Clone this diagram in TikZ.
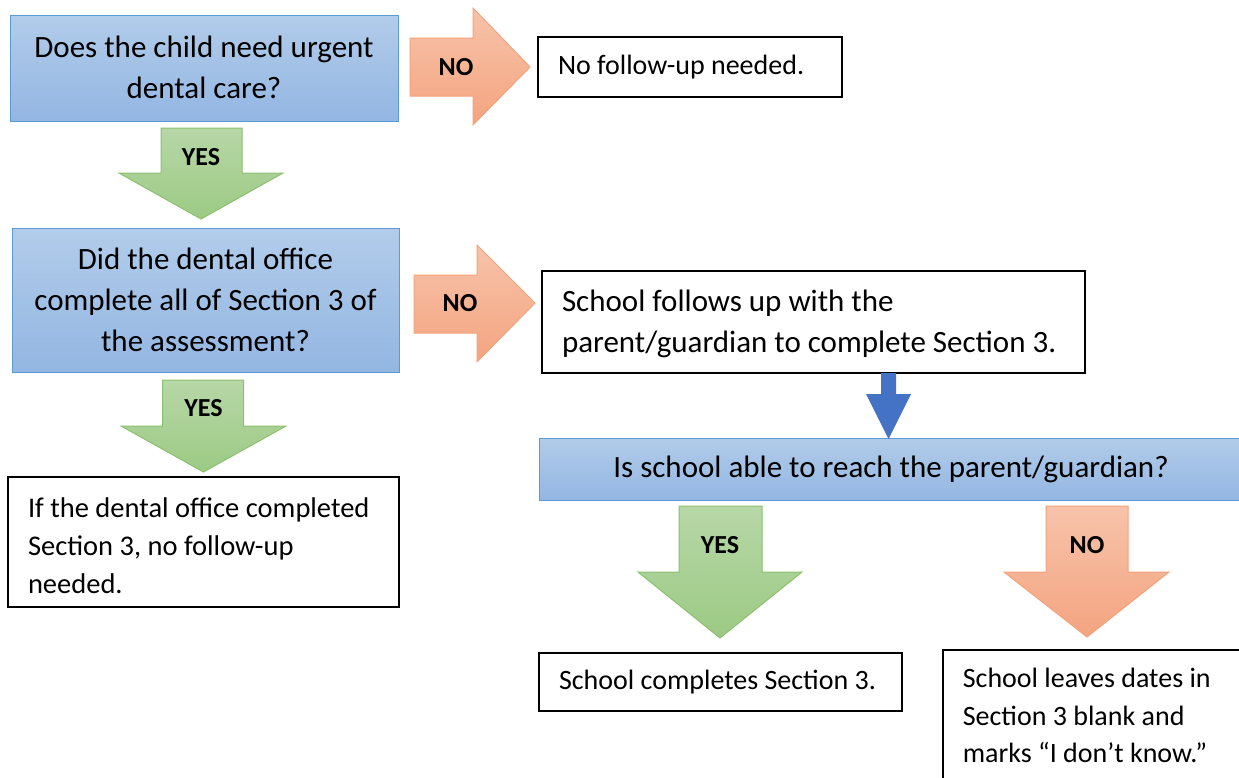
\documentclass[tikz,border=0pt]{standalone}
\usepackage{fontspec}
\setmainfont{Carlito}
\definecolor{bluetop}{HTML}{B2CCEA}
\definecolor{bluebot}{HTML}{93B6E2}
\definecolor{blueline}{HTML}{5B9BD5}
\definecolor{orgtop}{HTML}{F7C3AA}
\definecolor{orgbot}{HTML}{F4A480}
\definecolor{orgline}{HTML}{F4A27B}
\definecolor{grntop}{HTML}{B7D7A7}
\definecolor{grnbot}{HTML}{9CCA84}
\definecolor{grnline}{HTML}{8CC06E}
\definecolor{darkblue}{HTML}{4472C4}
\tikzset{
  bluebox/.style={draw=blueline, line width=1pt, top color=bluetop, bottom color=bluebot, shading angle=0, inner sep=0pt, align=center, font=\fontsize{31}{41}\selectfont},
  whitebox/.style={draw=black, line width=1.6pt, fill=white, inner xsep=20pt, inner ysep=0pt, align=flush left, font=\fontsize{28}{37.5}\selectfont},
  orgarrow/.style={draw=orgline, line width=1pt, top color=orgtop, bottom color=orgbot},
  grnarrow/.style={draw=grnline, line width=1pt, top color=grntop, bottom color=grnbot},
  lbl/.style={font=\fontsize{26}{26}\selectfont\bfseries, inner sep=0pt}
}
\begin{document}
\begin{tikzpicture}[x=1pt,y=-1pt]
\useasboundingbox (0,0) rectangle (1239,777);
\clip (0,0) rectangle (1239,777);
% boxes
\node[bluebox, minimum width=388pt, minimum height=106pt] (q1) at (204,68) {\raisebox{2.5pt}{Does the child need urgent}\\\raisebox{2.5pt}{dental care?}};
\node[whitebox, minimum height=60pt, text width=264pt] (nf) at (690,67) {\raisebox{-1pt}{No follow-up needed.}};
\node[bluebox, minimum width=387pt, minimum height=144pt] (q2) at (205.5,300) {Did the dental office\\complete all of Section 3 of\\the assessment?};
\node[whitebox, minimum height=102pt, text width=503pt, font=\fontsize{31}{41}\selectfont] (fu) at (813.5,322) {\rule{0pt}{26pt}School follows up with the\\parent/guardian to complete Section 3.};
\node[whitebox, minimum height=130pt, text width=351pt, font=\fontsize{28.5}{38}\selectfont] (dn) at (203.5,542) {\rule{0pt}{27pt}If the dental office completed\\Section 3, no follow-up\\needed.};
\node[bluebox, minimum width=711pt, minimum height=62pt] (q3) at (894.5,469) {\hspace*{-7pt}Is school able to reach the parent/guardian?};
\node[whitebox, minimum height=58pt, text width=323pt] (sc) at (720.5,682) {School completes Section 3.};
\node[whitebox, text width=268pt, anchor=north west, inner ysep=0pt] (sl) at (942,649) {\rule{0pt}{38pt}School leaves dates in\\Section 3 blank and\\marks “I don’t know.”\rule[-30pt]{0pt}{30pt}};
% arrows
\draw[orgarrow] (410,38) -- (473,38) -- (473,8) -- (530,67) -- (473,125) -- (473,96) -- (410,96) -- cycle;
\node[lbl] (no1) at (456,67) {NO};
\draw[grnarrow] (161,128) -- (242,128) -- (242,173) -- (283,173) -- (201,219) -- (119,173) -- (161,173) -- cycle;
\node[lbl] (yes1) at (201,157) {YES};
\draw[orgarrow] (414,275) -- (477,275) -- (477,245) -- (535,303) -- (477,362) -- (477,333) -- (414,333) -- cycle;
\node[lbl] (no2) at (460,303) {NO};
\draw[grnarrow] (162.5,380) -- (243.5,380) -- (243.5,426) -- (286,426) -- (203.5,472) -- (121,426) -- (162.5,426) -- cycle;
\node[lbl] (yes2) at (203.5,408) {YES};
\fill[darkblue] (881,373) -- (896,373) -- (896,394) -- (911,394) -- (888.5,439) -- (866,394) -- (881,394) -- cycle;
\draw[grnarrow] (679,506) -- (762,506) -- (762,572) -- (802,572) -- (720,638) -- (638,572) -- (679,572) -- cycle;
\node[lbl] (yes3) at (720,545) {YES};
\draw[orgarrow] (1046,506) -- (1128,506) -- (1128,572) -- (1169,572) -- (1087,637) -- (1004,572) -- (1046,572) -- cycle;
\node[lbl] (no3) at (1087,545) {NO};
\end{tikzpicture}
\end{document}
